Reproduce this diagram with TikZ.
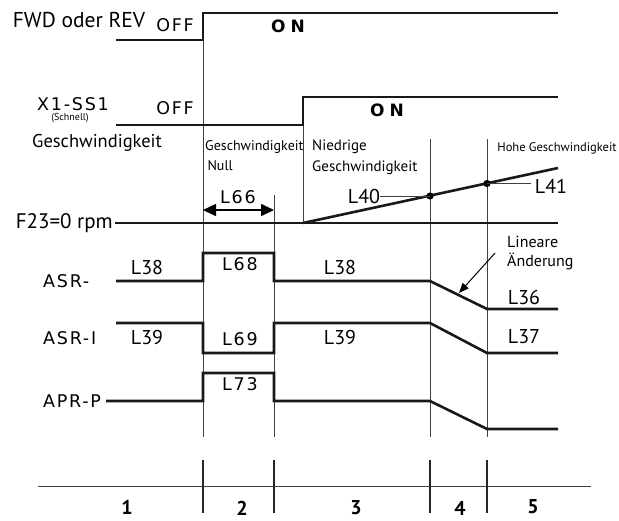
\documentclass[tikz,border=0pt]{standalone}
\usepackage{fontspec}
\setmainfont{PT Sans}
\newfontfamily\verdfont[LetterSpace=10]{DejaVu Sans}
\newfontfamily\onfont[LetterSpace=30]{DejaVu Sans}
\usetikzlibrary{arrows.meta,positioning}
\tikzset{
  signal/.style={line width=2.6pt, draw=black!90, line join=miter},
  guide/.style={line width=0.9pt, draw=black!75},
  tick/.style={line width=1.8pt, draw=black!85},
  lbl/.style={inner sep=0pt, font=\fontsize{20}{22}\selectfont},
  note/.style={inner sep=0pt, align=left, font=\fontsize{14}{20}\selectfont},
  code/.style={inner sep=0pt, font=\verdfont\fontsize{17.5}{19}\selectfont},
  onlbl/.style={inner sep=0pt, font=\onfont\bfseries\fontsize{17}{18}\selectfont},
  phase/.style={inner sep=0pt, font=\bfseries\fontsize{20}{21}\selectfont},
  dimarrow/.style={{Triangle[length=13pt,width=12pt]}-{Triangle[length=13pt,width=12pt]}, line width=1.6pt},
  pointer/.style={-{Triangle[length=10pt,width=8pt]}, line width=1pt}
}
\begin{document}
\begin{tikzpicture}[x=1pt, y=-1pt]
  \useasboundingbox (0,0) rectangle (619,520);

  % signal names
  \node[lbl, font=\fontsize{21.5}{23}\selectfont] (fwd) at (79,20) {FWD oder REV};
  \node[code] (x1) at (73,104) {X1-SS1};
  \node[inner sep=0pt, font=\fontsize{10}{11}\selectfont] (schnell) at (70,118) {(Schnell)};
  \node[lbl, anchor=west, font=\fontsize{18.5}{20}\selectfont] (speed) at (32,143) {Geschwindigkeit};
  \node[lbl, anchor=east, font=\fontsize{21}{22}\selectfont] (f23) at (113,223) {F23=0 rpm};
  \node[code, anchor=west] (asrp) at (43,281) {ASR-};
  \node[code, anchor=west] (asri) at (43,338) {ASR-I};
  \node[code, anchor=west] (aprp) at (43,401) {APR-P};

  % on/off states
  \node[code] (off1) at (175,25) {OFF};
  \node[onlbl] (on1) at (288,26) {ON};
  \node[code] (off2) at (175,108) {OFF};
  \node[onlbl] (on2) at (387,110) {ON};

  % phase notes
  \node[note, anchor=west] (null) at (205,156) {Geschwindigkeit\\\,Null};
  \node[note, anchor=west, font=\fontsize{15}{21}\selectfont] (low) at (312,157) {Niedrige\\Geschwindigkeit};
  \node[note, font=\fontsize{12.5}{16}\selectfont] (high) at (557,148) {Hohe Geschwindigkeit};
  \node[note, font=\fontsize{16}{19}\selectfont, anchor=west] (lin) at (507,253) {Lineare\\Änderung};

  % guide lines
  \draw[guide] (203,13) -- (203,437);
  \draw[guide] (274,195) -- (274,437);
  \draw[guide] (303,97) -- (303,223);
  \draw[guide] (430,139) -- (430,437);
  \draw[guide] (487,139) -- (487,437);

  % commands
  \draw[signal] (116,40) -- (203,40) -- (203,13) -- (558,13);
  \draw[signal] (116,125) -- (303,125) -- (303,97) -- (558,97);

  % speed
  \draw[signal] (f23.east) ++(2,0) -- (558,223);
  \draw[signal] (303,223) -- (558,168);
  \fill (430,196) circle (3.6pt) coordinate (p40);
  \fill (487,183.5) circle (3.6pt) coordinate (p41);
  \node[lbl] (l40) at (364,196) {L40};
  \node[lbl] (l41) at (551,186) {L41};
  \draw[guide] (l40.east) -- (p40);
  \draw[guide] (p41) -- ([xshift=-4pt]p41 -| l41.west);
  \node[code] (l66) at (238,197) {L66};
  \draw[dimarrow] (203,210) -- (274,210);

  % gains
  \draw[signal] (116,281) -- (203,281) -- (203,253) -- (274,253) -- (274,281) -- (430,281) -- (487,309) -- (558,309);
  \draw[signal] (116,323) -- (203,323) -- (203,353) -- (274,353) -- (274,323) -- (430,323) -- (487,353) -- (558,353);
  \draw[signal] (aprp.east) ++(5,0) -- (203,401) -- (203,373) -- (274,373) -- (274,401) -- (430,401) -- (487,429) -- (558,429);

  \node[lbl] (l38a) at (147,267) {L38};
  \node[code] (l68) at (240,264) {L68};
  \node[lbl] (l38b) at (340,267) {L38};
  \node[lbl] (l36) at (524,297) {L36};
  \node[lbl] (l39a) at (147,337) {L39};
  \node[code] (l69) at (240,339) {L69};
  \node[lbl] (l39b) at (340,337) {L39};
  \node[lbl] (l37) at (524,337) {L37};
  \node[code] (l73) at (240,384) {L73};

  \coordinate (ramp) at (459,293);
  \draw[pointer] ([xshift=-12pt]lin.west) -- (ramp);

  % phase axis
  \draw[guide] (38,486) -- (591,486);
  \foreach \t in {203,274,430,487}
    \draw[tick] (\t,460) -- (\t,513);
  \node[phase] (ph1) at (127,507) {1};
  \node[phase] (ph2) at (242,508) {2};
  \node[phase] (ph3) at (356,508) {3};
  \node[phase] (ph4) at (460,508) {4};
  \node[phase] (ph5) at (533,507) {5};
\end{tikzpicture}
\end{document}
